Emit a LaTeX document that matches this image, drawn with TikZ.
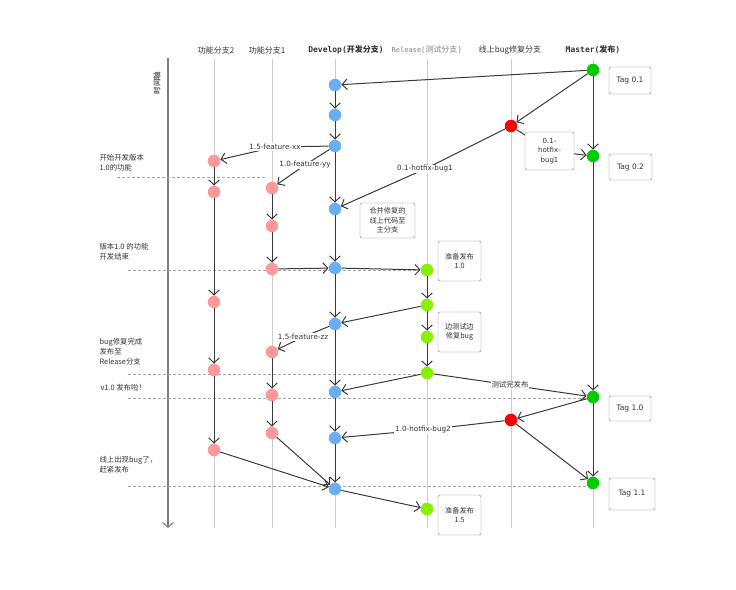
\documentclass[tikz,border=0pt]{standalone}
\usepackage{fontspec}
\setmainfont{DejaVu Sans}
\setmonofont{DejaVu Sans Mono}
\newfontfamily\cjk{Noto Sans CJK SC}
\usetikzlibrary{arrows.meta}
\definecolor{devblue}{HTML}{6AAEF5}
\definecolor{mgreen}{HTML}{00CC00}
\definecolor{bugred}{HTML}{FF0000}
\definecolor{relgreen}{HTML}{88F000}
\definecolor{fpink}{HTML}{FF9999}
\definecolor{linec}{HTML}{3A3A3A}
\definecolor{textc}{HTML}{333333}
\begin{document}
\begin{tikzpicture}[x=1pt,y=-1pt,
  dot/.style={circle,minimum size=12.5pt,inner sep=0pt},
  dv/.style={dot,fill=devblue},
  ms/.style={dot,fill=mgreen},
  bg/.style={dot,fill=bugred},
  rl/.style={dot,fill=relgreen},
  ft/.style={dot,fill=fpink},
  arr/.style={draw=linec,line width=1pt,-{Straight Barb[length=5pt,width=10.5pt,line width=1pt]}},
  ln/.style={draw=linec,line width=1pt},
  branch/.style={draw=black!20,line width=1pt},
  guide/.style={draw=black!35,dash pattern=on 3pt off 2pt,line width=0.6pt},
  lab/.style={fill=white,inner sep=0.8pt,text=textc,font=\fontsize{7.2}{8}\selectfont},
  box/.style={draw=black!50,rounded corners=2pt,fill=white,align=center,text=textc,font=\cjk\fontsize{7.2}{9.5}\selectfont},
  note/.style={anchor=west,align=left,text=textc,font=\cjk\fontsize{7.4}{10}\selectfont},
  hdr/.style={text=textc,font=\cjk\fontsize{8}{9}\selectfont}
]
\useasboundingbox (0,0) rectangle (736,589);

% headers
\node[hdr] (h1) at (216,50) {功能分支2};
\node[hdr] (h2) at (267,50) {功能分支1};
\node[hdr] (h3) at (346,50) {{\ttfamily\bfseries Develop(}{\bfseries 开发分支}{\ttfamily\bfseries )}};
\node[hdr,text=black!50] (h4) at (427,50) {{\ttfamily\fontsize{7}{8}\selectfont Release(}测试分支{\ttfamily )}};
\node[hdr] (h5) at (510,50) {线上bug修复分支};
\node[hdr] (h6) at (593,50) {{\ttfamily\bfseries Master(}{\bfseries 发布}{\ttfamily\bfseries )}};

% time axis
\coordinate (ta) at (168,58);
\coordinate (tb) at (168,528);
\draw[draw=black!50,line width=1.6pt,-{Straight Barb[length=5pt,width=11pt,line width=1pt]}] (ta) -- (tb);
\node[rotate=90,text=black!55,font=\cjk\bfseries\fontsize{7.5}{8}\selectfont] (tl) at (157,83) {时间轴};

% branch lines
\foreach \x/\n in {214/b1,272/b2,335/b3,427/b4,511/b5,593/b6}{
  \coordinate (\n t) at (\x,59);
  \coordinate (\n b) at (\x,528);
  \draw[branch] (\n t) -- (\n b);
}

% guides
\coordinate (g1a) at (117,177); \coordinate (g1b) at (265,177);
\coordinate (g2a) at (128,270); \coordinate (g2b) at (420,270);
\coordinate (g3a) at (128,374); \coordinate (g3b) at (425,374);
\coordinate (g4a) at (128,398); \coordinate (g4b) at (590,398);
\coordinate (g5a) at (128,486); \coordinate (g5b) at (590,486);
\draw[guide] (g1a) -- (g1b);
\draw[guide] (g2a) -- (g2b);
\draw[guide] (g3a) -- (g3b);
\draw[guide] (g4a) -- (g4b);
\draw[guide] (g5a) -- (g5b);

% notes
\node[note] (n1) at (96,163) {开始开发版本\\1.0的功能};
\node[note] (n2) at (96,252) {版本1.0 的功能\\开发结束};
\node[note] (n3) at (96,352) {bug修复完成\\发布至\\Release分支};
\node[note] (n4) at (97,388) {v1.0 发布啦！};
\node[note] (n5) at (96,465) {线上出现bug了，\\赶紧发布};

% commits
\node[ms] (m1) at (593,70) {};
\node[ms] (m2) at (593,156) {};
\node[ms] (m3) at (593,397) {};
\node[ms] (m4) at (593,483) {};
\node[bg] (x1) at (511,126) {};
\node[bg] (x2) at (511,420) {};
\node[dv] (d1) at (335,85) {};
\node[dv] (d2) at (335,115) {};
\node[dv] (d3) at (335,146) {};
\node[dv] (d4) at (335,209) {};
\node[dv] (d5) at (335,268) {};
\node[dv] (d6) at (335,324) {};
\node[dv] (d7) at (335,392) {};
\node[dv] (d8) at (335,438) {};
\node[dv] (d9) at (335,489) {};
\node[rl] (r1) at (427,270) {};
\node[rl] (r2) at (427,305) {};
\node[rl] (r3) at (427,337) {};
\node[rl] (r4) at (427,373) {};
\node[rl] (r5) at (427,509) {};
\node[ft] (f1) at (214,161) {};
\node[ft] (f2) at (214,192) {};
\node[ft] (f3) at (214,302) {};
\node[ft] (f4) at (214,370) {};
\node[ft] (f5) at (214,450) {};
\node[ft] (e1) at (272,188) {};
\node[ft] (e2) at (272,226) {};
\node[ft] (e3) at (272,269) {};
\node[ft] (e4) at (272,352) {};
\node[ft] (e5) at (272,395) {};
\node[ft] (e6) at (272,433) {};

% label positions
\coordinate (Lxx) at (275,147);
\coordinate (Lyy) at (305,165);
\coordinate (Lb1) at (425,169);
\coordinate (Lzz) at (303,337);
\coordinate (Lrel) at (510,385);
\coordinate (Lb2) at (423,430);
\coordinate (Lhb) at (549.5,151);

% edges
\draw[arr] (m1) -- (d1);
\draw[arr] (m1) -- (x1);
\draw[arr] (m1) -- (m2);
\draw[arr] (m2) -- (m3);
\draw[arr] (m3) -- (m4);
\draw[ln] (x1) -- (Lhb);
\draw[arr] (Lhb) -- (m2);
\draw[ln] (x1) -- (Lb1);
\draw[arr] (Lb1) -- (d4);
\draw[arr] (d1) -- (d2);
\draw[arr] (d2) -- (d3);
\draw[arr] (d3) -- (d4);
\draw[arr] (d4) -- (d5);
\draw[arr] (d5) -- (d6);
\draw[arr] (d6) -- (d7);
\draw[arr] (d7) -- (d8);
\draw[arr] (d8) -- (d9);
\draw[ln] (d3) -- (Lxx);
\draw[arr] (Lxx) -- (f1);
\draw[ln] (d3) -- (Lyy);
\draw[arr] (Lyy) -- (e1);
\draw[arr] (f1) -- (f2);
\draw[arr] (f2) -- (f3);
\draw[arr] (f3) -- (f4);
\draw[arr] (f4) -- (f5);
\draw[arr] (e1) -- (e2);
\draw[arr] (e2) -- (e3);
\draw[arr] (e3) -- (d5);
\draw[arr] (d5) -- (r1);
\draw[arr] (r1) -- (r2);
\draw[arr] (r2) -- (r3);
\draw[arr] (r3) -- (r4);
\draw[arr] (r2) -- (d6);
\draw[ln] (d6) -- (Lzz);
\draw[arr] (Lzz) -- (e4);
\draw[arr] (e4) -- (e5);
\draw[arr] (e5) -- (e6);
\draw[arr] (r4) -- (d7);
\draw[ln] (r4) -- (Lrel);
\draw[arr] (Lrel) -- (m3);
\draw[arr] (m3) -- (x2);
\draw[ln] (x2) -- (Lb2);
\draw[arr] (Lb2) -- (d8);
\draw[arr] (x2) -- (m4);
\draw[arr] (e6) -- (d9);
\draw[arr] (f5) -- (d9);
\draw[arr] (d9) -- (r5);

% edge labels
\node[lab] (lxx) at (Lxx) {1.5-feature-xx};
\node[lab] (lyy) at (Lyy) {1.0-feature-yy};
\node[lab] (lb1) at (Lb1) {0.1-hotfix-bug1};
\node[lab] (lzz) at (Lzz) {1.5-feature-zz};
\node[lab,font=\cjk\fontsize{7.4}{8}\selectfont] (lrel) at (Lrel) {测试完发布};
\node[lab] (lb2) at (Lb2) {1.0-hotfix-bug2};

% boxes
\node[box,font=\fontsize{7}{9.5}\selectfont,minimum width=49pt,minimum height=38pt,inner sep=1pt] (hb) at (Lhb) {0.1-\\hotfix-\\bug1};
\node[box,minimum width=55pt,minimum height=35pt,inner sep=1pt] (mb) at (387.5,220.5) {合并修复的\\线上代码至\\主分支};
\node[box,minimum width=43pt,minimum height=40pt,inner sep=1pt] (p1) at (459.5,261) {准备发布\\1.0};
\node[box,minimum width=43pt,minimum height=40pt,inner sep=1pt] (p2) at (459.5,332) {边测试边\\修复bug};
\node[box,minimum width=43pt,minimum height=40pt,inner sep=1pt] (p3) at (459.5,515) {准备发布\\1.5};
\node[box,font=\fontsize{7.5}{9}\selectfont,minimum width=42pt,minimum height=27pt] (t1) at (630,80.5) {Tag 0.1};
\node[box,font=\fontsize{7.5}{9}\selectfont,minimum width=43pt,minimum height=26pt] (t2) at (630.5,167) {Tag 0.2};
\node[box,font=\fontsize{7.5}{9}\selectfont,minimum width=42pt,minimum height=25pt] (t3) at (630,408.5) {Tag 1.0};
\node[box,font=\fontsize{7.5}{9}\selectfont,minimum width=46pt,minimum height=32pt] (t4) at (632,494) {Tag 1.1};
\end{tikzpicture}
\end{document}
